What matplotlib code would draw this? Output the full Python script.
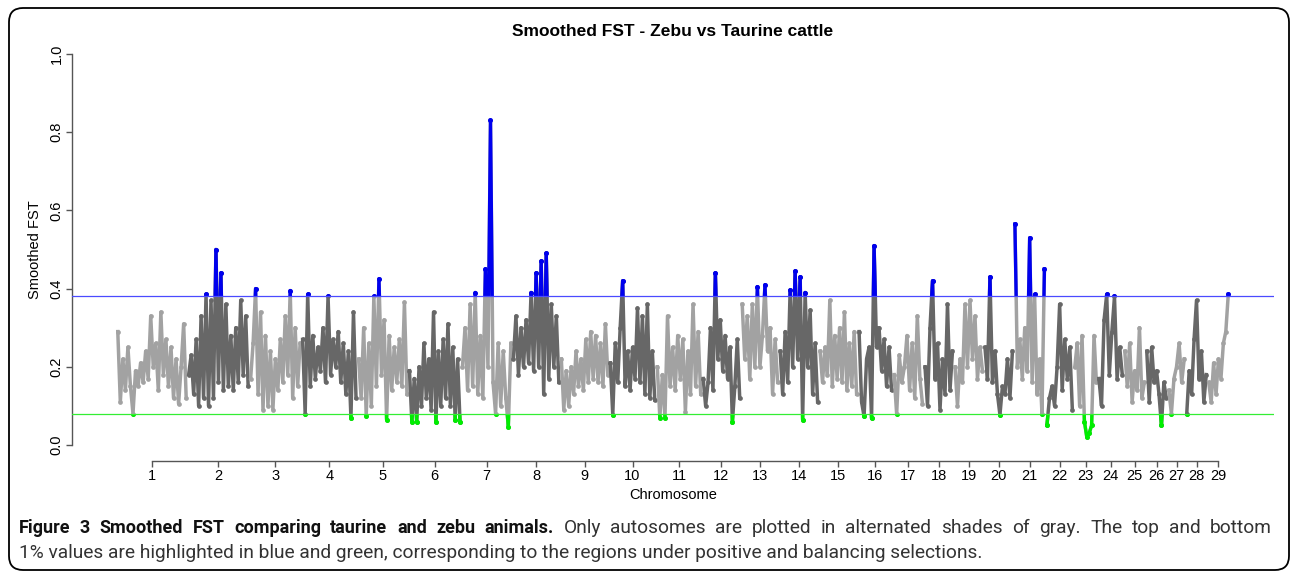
import matplotlib
matplotlib.use("Agg")
import matplotlib.pyplot as plt
from matplotlib.patches import Rectangle, FancyBboxPatch

chromosomes = [str(i) for i in range(1, 30)]
# relative span of each chromosome along the x axis (number of windows)
chrom_len = [71, 62, 52, 56, 51, 53, 51, 48, 49, 47, 46, 39, 38, 40, 39,
             35, 31, 30, 30, 30, 32, 28, 24, 26, 22, 22, 18, 22, 22]

# smoothed FST read along each chromosome
chr1 = [0.29, 0.11, 0.22, 0.14, 0.25, 0.15, 0.08, 0.19, 0.15, 0.21, 0.16, 0.24, 0.17, 0.33,
        0.20, 0.26, 0.14, 0.34, 0.18, 0.27, 0.15, 0.25, 0.12, 0.22, 0.105, 0.20, 0.31, 0.12]
chr2 = [0.18, 0.23, 0.13, 0.27, 0.10, 0.33, 0.12, 0.385, 0.10, 0.37, 0.12, 0.50, 0.16,
        0.44, 0.14, 0.36, 0.15, 0.28, 0.14, 0.30, 0.16, 0.37, 0.18, 0.33, 0.15]
chr3 = [0.17, 0.26, 0.40, 0.13, 0.34, 0.09, 0.28, 0.10, 0.24, 0.09, 0.22, 0.14, 0.27, 0.16,
        0.33, 0.18, 0.395, 0.12, 0.30, 0.15, 0.26]
chr4 = [0.27, 0.08, 0.385, 0.15, 0.28, 0.17, 0.25, 0.19, 0.30, 0.16, 0.38, 0.18, 0.27, 0.20,
        0.29, 0.16, 0.26, 0.13, 0.24, 0.07, 0.34, 0.12]
chr5 = [0.22, 0.12, 0.30, 0.075, 0.26, 0.10, 0.38, 0.15, 0.425, 0.18, 0.32, 0.065, 0.28,
        0.14, 0.25, 0.16, 0.27, 0.15, 0.365, 0.13]
chr6 = [0.19, 0.06, 0.17, 0.06, 0.20, 0.10, 0.26, 0.12, 0.22, 0.09, 0.34, 0.06, 0.24, 0.10,
        0.27, 0.12, 0.31, 0.10, 0.25, 0.065, 0.22, 0.06]
chr7 = [0.20, 0.30, 0.14, 0.36, 0.15, 0.39, 0.13, 0.28, 0.12, 0.45, 0.20, 0.83, 0.16, 0.08,
        0.26, 0.10, 0.24, 0.12, 0.047, 0.26]
chr8 = [0.22, 0.33, 0.18, 0.30, 0.20, 0.32, 0.21, 0.39, 0.19, 0.44, 0.20, 0.47, 0.13, 0.49,
        0.17, 0.36, 0.20, 0.33, 0.16]
chr9 = [0.22, 0.09, 0.19, 0.10, 0.20, 0.13, 0.24, 0.15, 0.22, 0.14, 0.27, 0.16, 0.29, 0.17,
        0.28, 0.16, 0.26, 0.15, 0.31, 0.18]
chr10 = [0.21, 0.077, 0.26, 0.16, 0.30, 0.42, 0.15, 0.24, 0.14, 0.25, 0.17, 0.35, 0.16,
         0.33, 0.13, 0.36, 0.12, 0.24, 0.115]
chr11 = [0.20, 0.07, 0.18, 0.07, 0.33, 0.15, 0.25, 0.14, 0.28, 0.17, 0.27, 0.085, 0.24,
         0.13, 0.36, 0.15, 0.29, 0.13]
chr12 = [0.17, 0.10, 0.16, 0.30, 0.14, 0.44, 0.22, 0.32, 0.19, 0.28, 0.17, 0.25, 0.06,
         0.15, 0.27, 0.12]
chr13 = [0.36, 0.22, 0.33, 0.17, 0.36, 0.20, 0.405, 0.20, 0.28, 0.41, 0.24, 0.30, 0.13,
         0.27, 0.16]
chr14 = [0.24, 0.13, 0.29, 0.16, 0.396, 0.20, 0.445, 0.22, 0.43, 0.065, 0.39, 0.20, 0.345,
         0.13, 0.26, 0.11]
chr15 = [0.24, 0.16, 0.25, 0.18, 0.37, 0.15, 0.28, 0.17, 0.30, 0.16, 0.34, 0.14, 0.26,
         0.15, 0.29, 0.13]
chr16 = [0.29, 0.11, 0.073, 0.22, 0.25, 0.068, 0.51, 0.25, 0.30, 0.19, 0.27, 0.15, 0.25, 0.14]
chr17 = [0.18, 0.079, 0.23, 0.16, 0.20, 0.28, 0.14, 0.26, 0.12, 0.33, 0.17, 0.105]
chr18 = [0.20, 0.10, 0.30, 0.42, 0.17, 0.26, 0.09, 0.22, 0.13, 0.36, 0.14, 0.24]
chr19 = [0.20, 0.10, 0.22, 0.16, 0.36, 0.20, 0.37, 0.22, 0.33, 0.17, 0.25, 0.19]
chr20 = [0.25, 0.17, 0.43, 0.16, 0.24, 0.13, 0.077, 0.15, 0.13, 0.22, 0.12, 0.24]
chr21 = [0.565, 0.20, 0.27, 0.17, 0.30, 0.19, 0.53, 0.16, 0.385, 0.13, 0.22, 0.08, 0.45]
chr22 = [0.05, 0.12, 0.15, 0.10, 0.20, 0.36, 0.14, 0.27, 0.17, 0.25, 0.09]
chr23 = [0.20, 0.26, 0.10, 0.28, 0.06, 0.02, 0.03, 0.05, 0.28, 0.16]
chr24 = [0.17, 0.10, 0.32, 0.385, 0.18, 0.29, 0.38, 0.17, 0.25, 0.18]
chr25 = [0.24, 0.15, 0.26, 0.11, 0.19, 0.14, 0.30, 0.12, 0.16]
chr26 = [0.24, 0.11, 0.25, 0.16, 0.19, 0.13, 0.05, 0.16, 0.12]
chr27 = [0.14, 0.08, 0.17, 0.20, 0.26, 0.16, 0.22]
chr28 = [0.08, 0.19, 0.13, 0.27, 0.37, 0.17, 0.24, 0.11, 0.18]
chr29 = [0.16, 0.11, 0.21, 0.13, 0.22, 0.17, 0.26, 0.29, 0.385]

fst_by_chrom = [chr1, chr2, chr3, chr4, chr5, chr6, chr7, chr8, chr9, chr10,
                chr11, chr12, chr13, chr14, chr15, chr16, chr17, chr18, chr19, chr20,
                chr21, chr22, chr23, chr24, chr25, chr26, chr27, chr28, chr29]

top_cut = 0.38      # top 1%
bottom_cut = 0.079  # bottom 1%

light = "#a2a2a2"
dark = "#676767"
blue = "#0000ee"
green = "#00ee00"

W, H = 1290, 572
fig = plt.figure(figsize=(W / 100, H / 100), dpi=100)
ax = fig.add_axes([72 / W, 1 - 460.6 / H, 1202 / W, 422.2 / H])

start = 0
mids = []
for k, (vals, n) in enumerate(zip(fst_by_chrom, chrom_len)):
    xs = [start + (i + 0.5) * n / len(vals) for i in range(len(vals))]
    col = light if k % 2 == 0 else dark
    ax.plot(xs, vals, color=col, lw=2.5, marker="o", ms=3.4, mew=0, solid_joinstyle="round")
    # highlight the extreme windows
    for c, y0, y1 in [(blue, top_cut, 1.2), (green, -0.2, bottom_cut)]:
        ln, = ax.plot(xs, vals, color=c, lw=2.4, marker="o", ms=3.6, mew=0,
                      solid_joinstyle="round")
        ln.set_clip_path(Rectangle((start - 1, y0), n + 2, y1 - y0, transform=ax.transData))
    mids.append(start + n / 2)
    start += n

total = start
ax.axhline(top_cut, color="#4a4aff", lw=0.9, zorder=3)
ax.axhline(bottom_cut, color="#33ee33", lw=0.9, zorder=3)

ax.set_xlim(-0.04 * total, 1.04 * total)
ax.set_ylim(-0.04, 1.04)
for s in ["top", "right"]:
    ax.spines[s].set_visible(False)
ax.spines["left"].set_bounds(0, 1)
ax.spines["bottom"].set_bounds(mids[0], mids[-1])
for s in ["left", "bottom"]:
    ax.spines[s].set_color("#555555")
    ax.spines[s].set_linewidth(1.0)

ax.set_xticks(mids)
ax.set_xticklabels(chromosomes, fontsize=10.5, family="Liberation Sans")
ax.set_yticks([0, 0.2, 0.4, 0.6, 0.8, 1.0])
ax.set_yticklabels(["0.0", "0.2", "0.4", "0.6", "0.8", "1.0"], fontsize=10.5,
                   family="Liberation Sans", rotation=90, va="center")
ax.tick_params(length=4, width=1, color="#555555", pad=2)

fig.text(673 / W, 1 - 32 / H, "Smoothed FST - Zebu vs Taurine cattle", ha="center", va="center",
         fontsize=12.5, weight="bold", family="Liberation Sans")
fig.text(673 / W, 1 - 495 / H, "Chromosome", ha="center", va="center",
         fontsize=10.5, family="Liberation Sans")
fig.text(35 / W, 1 - 250 / H, "Smoothed FST", ha="center", va="center", rotation=90,
         fontsize=10.5, family="Liberation Sans")

# caption, first line justified across the full width
cap_bold = "Figure 3 Smoothed FST comparing taurine and zebu animals."
cap_line1 = "Only autosomes are plotted in alternated shades of gray. The top and bottom"
cap_line2 = ("1% values are highlighted in blue and green, corresponding to the regions under "
             "positive and balancing selections.")
renderer = fig.canvas.get_renderer()
placed = []
for w in cap_bold.split():
    t = fig.text(0, 1 - 533 / H, w, fontsize=13, weight="bold", family="Roboto",
                 va="baseline", color="#111111")
    placed.append((t, t.get_window_extent(renderer).width))
for w in cap_line1.split():
    t = fig.text(0, 1 - 533 / H, w, fontsize=13.8, family="Roboto",
                 va="baseline", color="#333333")
    placed.append((t, t.get_window_extent(renderer).width))
x_left, x_right = 19, 1272
gap = (x_right - x_left - sum(wd for _, wd in placed)) / (len(placed) - 1)
x = x_left
for t, wd in placed:
    t.set_x(x / W)
    x += wd + gap
fig.text(19 / W, 1 - 558 / H, cap_line2, fontsize=13.8, family="Roboto",
         va="baseline", color="#333333")

frame = FancyBboxPatch((0.09, 0.02), 12.8, 5.62, boxstyle="round,pad=0,rounding_size=0.14",
                       transform=fig.dpi_scale_trans, fill=False, ec="black", lw=1.3)
fig.patches.append(frame)

fig.savefig("out.png", dpi=100)
